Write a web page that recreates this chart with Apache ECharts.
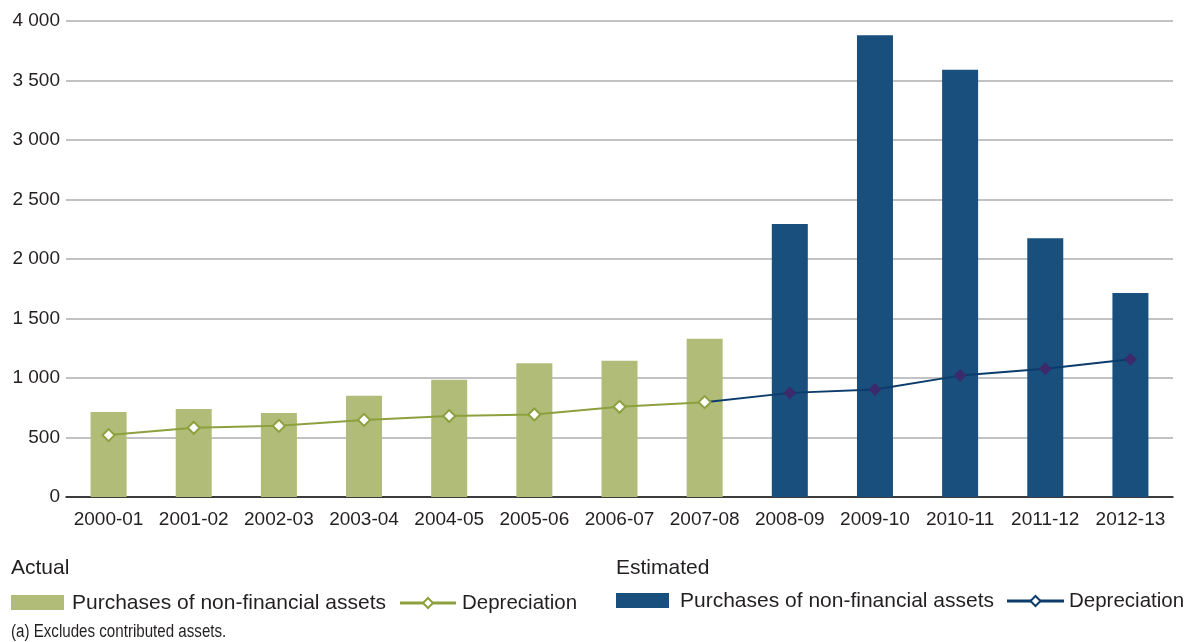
<!DOCTYPE html>
<html>
<head>
<meta charset="utf-8">
<style>
  html, body { margin: 0; padding: 0; background: #ffffff; }
  #chart { width: 1189px; height: 642px; }
</style>
<script src="https://cdn.jsdelivr.net/npm/echarts@6/dist/echarts.min.js"></script>
</head>
<body>
<div id="chart"></div>
<script>
// Financial years on the category axis
const categories = ['2000-01', '2001-02', '2002-03', '2003-04', '2004-05', '2005-06', '2006-07',
  '2007-08', '2008-09', '2009-10', '2010-11', '2011-12', '2012-13'];

// Purchases of non-financial assets ($m): actual years, then estimates
const purchasesActual = [715, 740, 705, 850, 985, 1125, 1145, 1330, null, null, null, null, null];
const purchasesEstimated = [null, null, null, null, null, null, null, null, 2295, 3880, 3590, 2175, 1715];

// Depreciation ($m): actual years, then estimates
const depreciationActual = [520, 582, 598, 648, 680, 693, 758, 797, null, null, null, null, null];
const depreciationEstimated = [null, null, null, null, null, null, null, null, 875, 904, 1020, 1078, 1158];

// Value axis range
const yMin = 0;
const yMax = 4000;
const yStep = 500;

const FONT = "'Liberation Sans', Arial, Helvetica, sans-serif";
const TEXT = '#231F20';
const GREEN_BAR = '#B0BC78';
const NAVY_BAR = '#194F7C';
const GREEN_LINE = '#8DA03E';
const NAVY_LINE = '#0C3C6C';
const PURPLE_MARK = '#3B2B6C';

// The estimated depreciation line starts from the last actual point
const lastActual = depreciationActual.reduce((acc, v, i) => (v != null ? i : acc), -1);
const depEstData = depreciationEstimated.map((v, i) => {
  if (i === lastActual) return { value: depreciationActual[i], symbol: 'none' };
  return v;
});

function thousands(v) {
  return String(v).replace(/\B(?=(\d{3})+(?!\d))/g, ' ');
}

function diamond(cx, cy, r, fill, stroke) {
  return {
    type: 'polygon',
    shape: { points: [[cx, cy - r], [cx + r, cy], [cx, cy + r], [cx - r, cy]] },
    style: { fill: fill, stroke: stroke, lineWidth: 2 },
    z: 101
  };
}

function legendGroup(x0, yTitle, yRow, title, barColor, lineColor, textX, lineX0, lineX1, depX) {
  const cy = yRow;
  return [
    { type: 'text', left: x0, top: yTitle - 12,
      style: { text: title, font: `21px ${FONT}`, fill: TEXT } },
    { type: 'rect', shape: { x: x0, y: cy - 8, width: 53, height: 15 }, style: { fill: barColor } },
    { type: 'text', x: textX, y: cy, style: { text: 'Purchases of non-financial assets', font: `21px ${FONT}`, fill: TEXT, verticalAlign: 'middle' } },
    { type: 'line', shape: { x1: lineX0, y1: cy, x2: lineX1, y2: cy }, style: { stroke: lineColor, lineWidth: 3 }, z: 100 },
    diamond((lineX0 + lineX1) / 2, cy, 5, '#ffffff', lineColor),
    { type: 'text', x: depX, y: cy, style: { text: 'Depreciation', font: `20.5px ${FONT}`, fill: TEXT, verticalAlign: 'middle' } }
  ];
}

const chart = echarts.init(document.getElementById('chart'), null, { renderer: 'canvas' });

chart.setOption({
  backgroundColor: '#ffffff',
  animation: false,
  textStyle: { fontFamily: FONT },
  grid: { left: 66, right: 16, top: 21, bottom: 145, containLabel: false },
  xAxis: {
    type: 'category',
    data: categories,
    axisTick: { show: false },
    axisLine: { lineStyle: { color: '#111111', width: 1.5 } },
    axisLabel: { color: TEXT, fontSize: 19, margin: 13, interval: 0, fontFamily: FONT }
  },
  yAxis: {
    type: 'value',
    min: yMin,
    max: yMax,
    interval: yStep,
    axisLine: { show: false },
    axisTick: { show: false },
    splitLine: { lineStyle: { color: '#AEAEB2', width: 1.5 } },
    axisLabel: { color: TEXT, fontSize: 19, margin: 6, fontFamily: FONT, formatter: thousands }
  },
  series: [
    {
      name: 'Purchases of non-financial assets (actual)',
      type: 'bar', stack: 'purchases', barWidth: 36,
      data: purchasesActual,
      itemStyle: { color: GREEN_BAR },
      z: 2
    },
    {
      name: 'Purchases of non-financial assets (estimated)',
      type: 'bar', stack: 'purchases', barWidth: 36,
      data: purchasesEstimated,
      itemStyle: { color: NAVY_BAR },
      z: 2
    },
    {
      name: 'Depreciation (estimated)',
      type: 'line',
      data: depEstData,
      symbol: 'diamond', symbolSize: 13,
      showAllSymbol: true,
      lineStyle: { color: NAVY_LINE, width: 2 },
      itemStyle: { color: PURPLE_MARK, borderWidth: 0 },
      z: 3
    },
    {
      name: 'Depreciation (actual)',
      type: 'line',
      data: depreciationActual,
      symbol: 'diamond', symbolSize: 12,
      showAllSymbol: true,
      lineStyle: { color: GREEN_LINE, width: 2 },
      itemStyle: { color: '#ffffff', borderColor: GREEN_LINE, borderWidth: 2 },
      z: 4
    }
  ],
  graphic: [
    ...legendGroup(11, 570, 603, 'Actual', GREEN_BAR, GREEN_LINE, 72, 400, 456, 462),
    ...legendGroup(616, 570, 601, 'Estimated', NAVY_BAR, NAVY_LINE, 680, 1007, 1064, 1069),
    { type: 'text', x: 11, y: 632, scaleX: 0.89, scaleY: 1.05,
      style: { text: '(a) Excludes contributed assets.', font: `17px 'Liberation Sans Narrow', 'Arial Narrow', ${FONT}`, fill: TEXT, verticalAlign: 'middle' } }
  ]
});
</script>
</body>
</html>
